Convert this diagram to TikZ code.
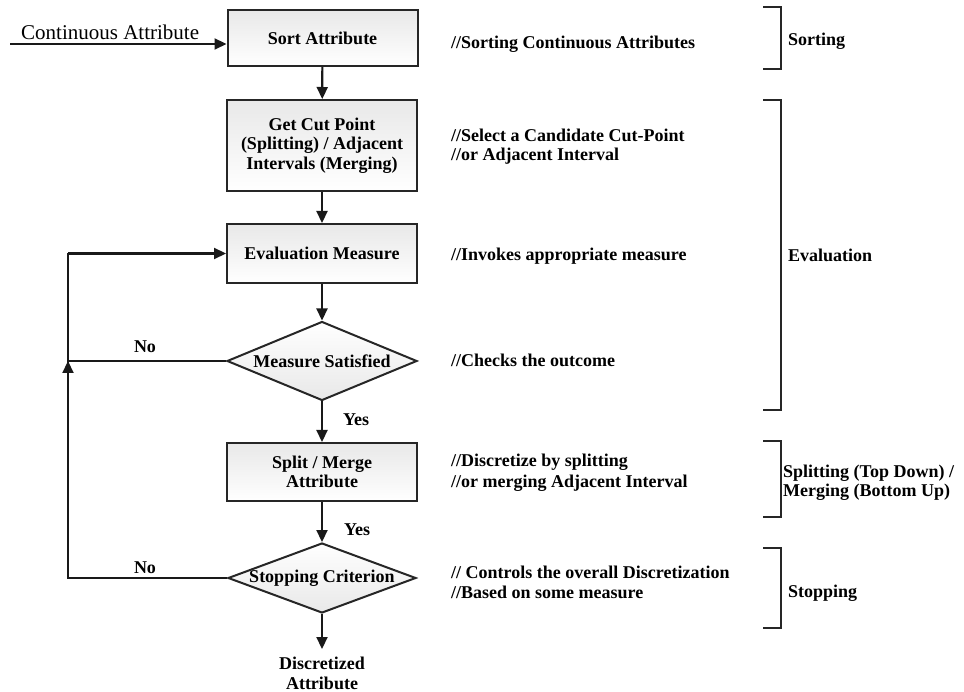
\documentclass[tikz,border=0pt]{standalone}
\usepackage{fontspec}
\setmainfont{Liberation Serif}
\usetikzlibrary{shapes.geometric,arrows.meta}
\tikzset{
  bfont/.style={font=\bfseries\fontsize{18}{19.5}\selectfont},
  box/.style={draw=black!85, line width=2pt, top color=gray!18, bottom color=white,
    minimum width=190pt, align=center, inner sep=0pt, bfont},
  dia/.style={diamond, draw=black!85, line width=2pt, top color=white, bottom color=gray!18,
    inner sep=0pt, bfont},
  line/.style={line width=2.2pt, black!90},
  arr/.style={line width=2.2pt, black!90, -{Triangle[length=12pt,width=11pt]}},
  cmt/.style={anchor=base west, inner sep=0pt, bfont},
  lbl/.style={anchor=base, inner sep=0pt, bfont},
  brk/.style={line width=2.5pt, black!85},
}
\begin{document}
\begin{tikzpicture}[x=1pt,y=-1pt]
\useasboundingbox (0,0) rectangle (964,692);

% main flow nodes
\node[box, minimum height=56pt] (sort) at (322.5,38) {Sort Attribute};
\node[box, minimum height=91pt] (cut) at (322,145.5) {Get Cut Point\\(Splitting) / Adjacent\\Intervals (Merging)};
\node[box, minimum height=59pt] (eval) at (322,253.5) {Evaluation Measure};
\node[dia, minimum width=190pt, minimum height=79pt] (meas) at (322,361) {\makebox[0pt]{Measure Satisfied}};
\node[box, minimum height=58pt] (split) at (322,472) {Split / Merge\\Attribute};
\node[dia, minimum width=188pt, minimum height=70pt] (stop) at (322,578) {\makebox[0pt]{Stopping Criterion}};
\node[align=center, inner sep=0pt, bfont, anchor=north] (out) at (322,657) {Discretized\\Attribute};

% input
\coordinate (cin) at (10,44);
\draw[arr] (cin) -- (cin -| sort.west);
\node[anchor=base west, inner sep=0pt, font=\fontsize{21}{24}\selectfont] (cinl) at (21,40) {Continuous Attribute};

% flow connectors
\draw[arr] (sort) -- (cut);
\draw[arr] (cut) -- (eval);
\draw[arr] (eval) -- (meas);
\draw[arr] (meas) -- (split);
\draw[arr] (split) -- (stop);
\coordinate (oend) at (322,649);
\draw[arr] (stop) -- (oend);

\node[lbl] (yes1) at (356,426) {Yes};
\node[lbl] (yes2) at (357,535) {Yes};

% loop back
\coordinate (c1) at (68,578);
\coordinate (c2) at (68,253.5);
\coordinate (cm) at (68,361);
\draw[line] (stop.west) -- (c1) -- (c2);
\draw[arr] (c2) -- (eval.west);
\draw[line] (meas.west) -- (cm);
\draw[arr] (c1) -- (cm);
\node[lbl] (no1) at (145,353) {No};
\node[lbl] (no2) at (145,573) {No};

% comments
\node[cmt] (k1) at (451,49) {//Sorting Continuous Attributes};
\node[cmt] (k2) at (451,142) {//Select a Candidate Cut-Point};
\node[cmt] (k3) at (451,161) {//or Adjacent Interval};
\node[cmt] (k4) at (451,261) {//Invokes appropriate measure};
\node[cmt] (k5) at (451,367) {//Checks the outcome};
\node[cmt] (k6) at (451,467) {//Discretize by splitting};
\node[cmt] (k7) at (451,487) {//or merging Adjacent Interval};
\node[cmt] (k8) at (451,578) {// Controls the overall Discretization};
\node[cmt] (k9) at (451,598) {//Based on some measure};

% brackets
\draw[brk] (763,7) -- (781,7) -- (781,69) -- (763,69);
\draw[brk] (763,100) -- (781,100) -- (781,410) -- (763,410);
\draw[brk] (763,441) -- (781,441) -- (781,517) -- (763,517);
\draw[brk] (763,548) -- (781,548) -- (781,628) -- (763,628);

\node[cmt] (s1) at (788,46) {Sorting};
\node[cmt] (s2) at (788,262) {Evaluation};
\node[cmt] (s3) at (783,477) {Splitting (Top Down) /};
\node[cmt] (s4) at (783,496) {Merging (Bottom Up)};
\node[cmt] (s5) at (788,597) {Stopping};
\end{tikzpicture}
\end{document}
